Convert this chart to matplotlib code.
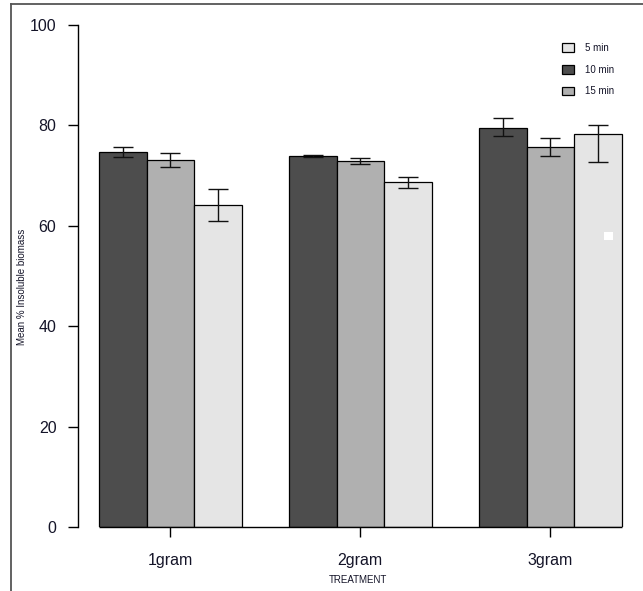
import matplotlib
matplotlib.use("Agg")
import matplotlib.pyplot as plt
from matplotlib.patches import Rectangle
from matplotlib.lines import Line2D
import numpy as np

plt.rcParams['font.family'] = ['Liberation Sans', 'DejaVu Sans']

treatments = ["1gram", "2gram", "3gram"]
series_names = ["10 min", "15 min", "5 min"]          # bar order within group
series_colors = ["#4d4d4d", "#b0b0b0", "#e5e5e5"]
means = {
    "10 min": [74.7, 73.9, 79.5],
    "15 min": [73.2, 73.0, 75.6],
    "5 min":  [64.2, 68.7, 78.3],
}
err_low = {
    "10 min": [1.0, 0.2, 1.7],
    "15 min": [1.4, 0.6, 1.7],
    "5 min":  [3.3, 1.1, 5.5],
}
err_high = {
    "10 min": [0.9, 0.2, 1.9],
    "15 min": [1.3, 0.6, 1.9],
    "5 min":  [3.2, 1.1, 1.7],
}
legend_order = ["5 min", "10 min", "15 min"]
yticks = [0, 20, 40, 60, 80, 100]

W, H = 643, 591
fig = plt.figure(figsize=(W / 100, H / 100), dpi=100)

bw = 47.5
x0px = 99
ax_left, ax_right = 78, 636
xlim = ((ax_left - x0px) / bw, (ax_right - x0px) / bw)
ax = fig.add_axes([ax_left / W, 1 - 527 / H, (ax_right - ax_left) / W, (527 - 25) / H])
ax.set_xlim(*xlim)
ax.set_ylim(0, 100)

nser = len(series_names)
group_starts = np.arange(len(treatments)) * (nser + 1)
for i, s in enumerate(series_names):
    xs = group_starts + i + 0.5
    ax.bar(xs, means[s], width=1.0, color=series_colors[i], edgecolor="black",
           linewidth=0.9, zorder=2)
    ax.errorbar(xs, means[s], yerr=[err_low[s], err_high[s]], fmt="none",
                ecolor="#111111", elinewidth=1.0, capsize=7.5, capthick=1.0, zorder=3)

ax.plot([group_starts[0], group_starts[-1] + nser], [0, 0], color="black", lw=1.0,
        zorder=4, clip_on=False, solid_capstyle="butt")

for sp in ["top", "right", "bottom"]:
    ax.spines[sp].set_visible(False)
ax.spines["left"].set_bounds(0, 100)
ax.spines["left"].set_linewidth(1.0)
ax.set_yticks(yticks)
ax.set_yticklabels([str(v) for v in yticks])
ax.tick_params(axis="y", length=7.5, width=1.0, pad=8, labelsize=11.5, labelcolor="#141428")
centers = group_starts + nser / 2
ax.set_xticks(centers)
ax.set_xticklabels(treatments)
ax.tick_params(axis="x", length=7.5, width=1.0, pad=11, labelsize=11.5, labelcolor="#141428")

fig.text(358 / W, 1 - 580 / H, "TREATMENT", ha="center", va="center", fontsize=7,
         color="#141428")
fig.text(22 / W, 1 - 287 / H, "Mean % Insoluble biomass", ha="center", va="center",
         rotation=90, fontsize=7, color="#141428")

handles = [Rectangle((0, 0), 1, 1, facecolor=series_colors[series_names.index(s)],
                     edgecolor="black", linewidth=0.9) for s in legend_order]
fig.legend(handles, legend_order, loc="upper left",
           bbox_to_anchor=(562 / W, 1 - 43 / H), frameon=False, fontsize=7,
           handlelength=1.25, handleheight=1.0, handletextpad=1.1,
           labelspacing=1.2, borderpad=0, borderaxespad=0, labelcolor="#141428")

fig.add_artist(Line2D([11 / W, 11 / W], [0, 1 - 4 / H], color="#555555", lw=1.3,
                      transform=fig.transFigure))
fig.add_artist(Line2D([11 / W, 1], [1 - 4 / H, 1 - 4 / H], color="#555555", lw=1.3,
                      transform=fig.transFigure))
fig.add_artist(Rectangle((604 / W, 1 - 240 / H), 9 / W, 8 / H, facecolor="white",
                         edgecolor="none", transform=fig.transFigure, zorder=10))

fig.savefig("out.png", dpi=100)
